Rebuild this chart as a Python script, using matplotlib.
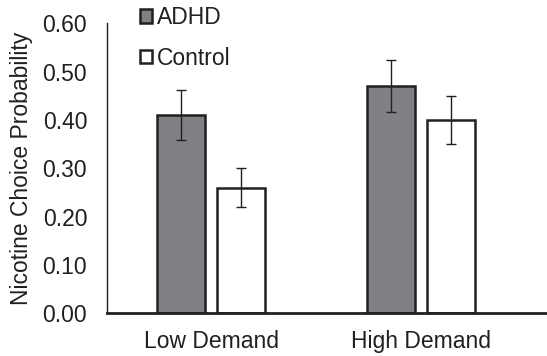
import numpy as np
import matplotlib.pyplot as plt

plt.rcParams['font.family'] = ['Liberation Sans', 'DejaVu Sans']

# data
categories = ['Low Demand', 'High Demand']
groups = ['ADHD', 'Control']
adhd_mean = [0.41, 0.47]
control_mean = [0.26, 0.40]
adhd_err = [0.051, 0.054]
control_err = [0.040, 0.049]
yticks = [0.0, 0.1, 0.2, 0.3, 0.4, 0.5, 0.6]

fig = plt.figure(figsize=(5.47, 3.56), dpi=100)
ax = fig.add_axes([0.195, 0.12, 0.805, 0.8145])

x = np.arange(len(categories))
w = 0.225
off = 0.143
edge = '#231f20'

ax.bar(x - off, adhd_mean, w, color='#808184', edgecolor=edge, linewidth=1.8,
       yerr=adhd_err, error_kw=dict(ecolor=edge, elinewidth=1, capsize=3.5, capthick=1),
       label=groups[0])
ax.bar(x + off, control_mean, w, color='white', edgecolor=edge, linewidth=1.8,
       yerr=control_err, error_kw=dict(ecolor=edge, elinewidth=1, capsize=3.5, capthick=1),
       label=groups[1])

ax.set_xlim(-0.497, 1.6)
ax.set_ylim(0, 0.6)
ax.set_yticks(yticks)
ax.set_yticklabels([f'{v:.2f}' for v in yticks])
ax.set_xticks(x)
ax.set_xticklabels(categories)
ax.tick_params(axis='both', length=0, labelsize=16.5, colors='#231f20')
ax.tick_params(axis='y', pad=14)
ax.tick_params(axis='x', pad=12)
ax.set_ylabel('Nicotine Choice Probability', fontsize=16.5, color='#231f20', labelpad=7)

for s in ['top', 'right']:
    ax.spines[s].set_visible(False)
ax.spines['left'].set_color(edge)
ax.spines['left'].set_linewidth(1)
ax.spines['bottom'].set_color(edge)
ax.spines['bottom'].set_linewidth(2)

leg = ax.legend(loc='upper left', bbox_to_anchor=(0.054, 1.09), frameon=False,
                fontsize=16.5, handlelength=0.55, handleheight=0.55, handletextpad=0.2,
                labelspacing=0.75, borderaxespad=0)
for t in leg.get_texts():
    t.set_color('#231f20')

fig.savefig('out.png', dpi=100)
